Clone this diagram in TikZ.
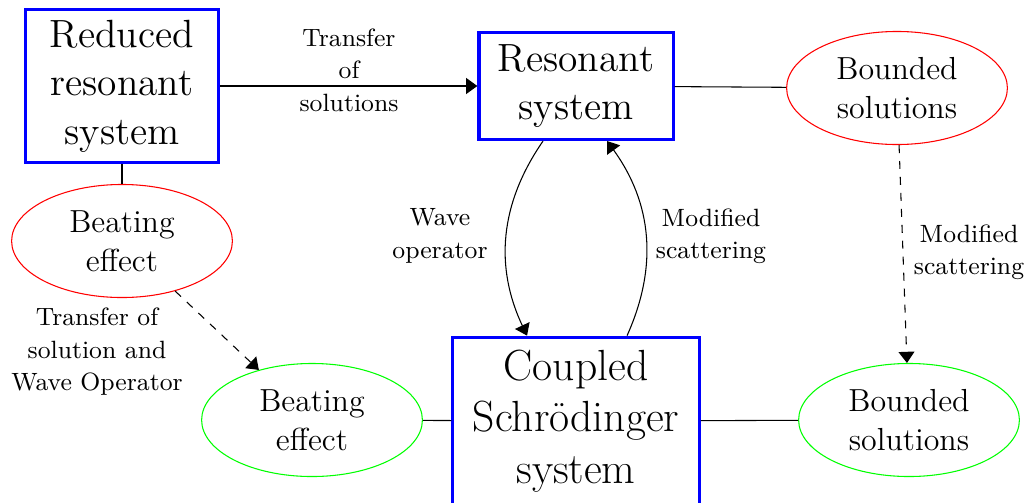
\documentclass[tikz,border=0pt]{standalone}
\usetikzlibrary{shapes.geometric,arrows.meta}
\begin{document}
\begin{tikzpicture}[x=0.37594pt,y=-0.37594pt,
  box/.style={draw=blue, very thick, align=center, inner sep=0pt,
    font=\fontsize{14.8}{18.2}\selectfont},
  ell/.style={ellipse, align=center, inner sep=0pt,
    minimum width=83pt, minimum height=42.5pt,
    font=\fontsize{12}{14.8}\selectfont},
  lab/.style={align=center, font=\fontsize{9.4}{12.2}\selectfont},
  arr/.style={-{Triangle[length=4.2pt,width=6pt]}}]
\useasboundingbox (0,0) rectangle (1029,502);
% boxes
\node[box, minimum width=72.6pt, minimum height=57.6pt] (RR) at (122,86) {Reduced\\resonant\\system};
\node[box, minimum width=73pt, minimum height=40.2pt] (RS) at (576,86) {Resonant\\system};
\node[box, minimum width=92.6pt, minimum height=63pt, font=\fontsize{16.4}{19.3}\selectfont] (CS) at (576,421) {Coupled\\Schr\"odinger\\system};
% ellipses
\node[ell, draw=red] (BR) at (897,88) {Bounded\\solutions};
\node[ell, draw=red] (BeR) at (122,241) {Beating\\effect};
\node[ell, draw=green] (BeG) at (312,420) {Beating\\effect};
\node[ell, draw=green] (BG) at (909,420) {Bounded\\solutions};
% connectors
\draw[arr] (RR) -- (RS);
\draw (RS) -- (BR);
\draw (RR) -- (BeR);
\draw (BeG) -- (CS);
\draw (CS) -- (BG);
\draw[arr] ([xshift=-12.4pt]RS.south) to[bend right=30] ([xshift=-18.4pt]CS.north);
\draw[arr] ([xshift=19.2pt]CS.north) to[bend right=30] ([xshift=11.7pt]RS.south);
\draw[arr, dashed] (BR) -- (BG);
\draw[arr, dashed] (BeR) -- (BeG);
% labels
\node[lab] (l1) at (349,70) {Transfer\\of\\solutions};
\node[lab] (l2) at (440,236) {Wave\\operator};
\node[lab] (l3) at (711,236) {Modified\\scattering};
\node[lab] (l4) at (969,252) {Modified\\scattering};
\node[lab] (l5) at (97,352) {Transfer of\\solution and\\Wave Operator};
\end{tikzpicture}
\end{document}
